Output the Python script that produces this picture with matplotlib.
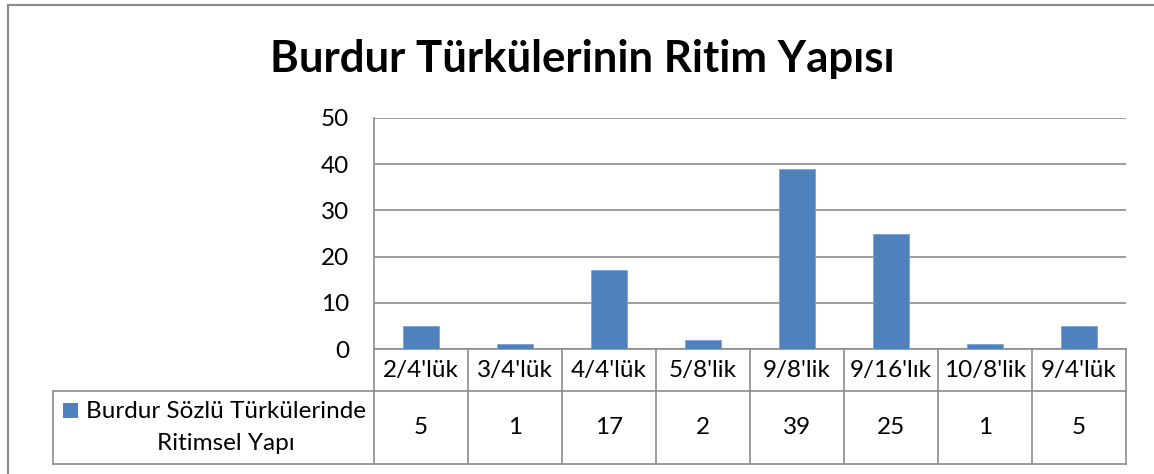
import matplotlib
matplotlib.use("Agg")
import matplotlib.pyplot as plt
from matplotlib.lines import Line2D
from matplotlib.patches import Rectangle

# rhythm categories and number of songs in each
categories = ["2/4'lük", "3/4'lük", "4/4'lük", "5/8'lik", "9/8'lik", "9/16'lık", "10/8'lik", "9/4'lük"]
counts = [5, 1, 17, 2, 39, 25, 1, 5]
series_name = "Burdur Sözlü Türkülerinde\nRitimsel Yapı"
title = "Burdur Türkülerinin Ritim Yapısı"
y_ticks = [0, 10, 20, 30, 40, 50]

BAR = "#4F81BD"
LINE = "#8c8c8c"
FONT = "Lato"
FS = 17.5

W, H = 1154, 474
fig = plt.figure(figsize=(W / 100, H / 100), dpi=100)
plt.rcParams["font.family"] = [FONT, "DejaVu Sans"]

# plot area in pixels: left, top, right, bottom
px_l, px_t, px_r, px_b = 374, 118, 1126, 349
ax = fig.add_axes([px_l / W, 1 - px_b / H, (px_r - px_l) / W, (px_b - px_t) / H])

x = list(range(len(categories)))
ax.bar(x, counts, width=0.38, color=BAR, edgecolor="#7aa3d6", linewidth=0.6, zorder=3)
ax.set_xlim(-0.5, len(categories) - 0.5)
ax.set_ylim(0, 50)
ax.set_yticks(y_ticks)
ax.set_xticks([])
ax.yaxis.grid(True, color=LINE, linewidth=1.2)
ax.set_axisbelow(True)
ax.tick_params(axis="y", length=0, pad=18, labelsize=FS)
for side in ["top", "right"]:
    ax.spines[side].set_visible(False)
for side in ["left", "bottom"]:
    ax.spines[side].set_color(LINE)
    ax.spines[side].set_linewidth(1.2)

# data table under the plot (heights in axes fractions)
plot_h = px_b - px_t
head_h = (391 - px_b) / plot_h
tab_h = (464 - px_b) / plot_h
label_l = (53 - px_l) / (px_r - px_l)

xt = ax.get_xaxis_transform()
lkw = dict(color=LINE, linewidth=1.2, clip_on=False)
for i in range(len(categories) + 1):
    ax.add_line(Line2D([i - 0.5, i - 0.5], [0, -tab_h], transform=xt, **lkw))
for yy in (-head_h, -tab_h):
    ax.add_line(Line2D([label_l, 1], [yy, yy], transform=ax.transAxes, **lkw))
ax.add_line(Line2D([label_l, label_l], [-head_h, -tab_h], transform=ax.transAxes, **lkw))

val_y = -(head_h + tab_h) / 2
for i, (cat, val) in enumerate(zip(categories, counts)):
    ax.text(i, -head_h / 2, cat, transform=xt, ha="center", va="center", fontsize=FS)
    ax.text(i, val_y, str(val), transform=xt, ha="center", va="center", fontsize=FS)

# series label with its colour key
text_x = (226 - px_l) / (px_r - px_l)
ax.text(text_x, val_y, series_name, transform=ax.transAxes, ha="center", va="center",
        multialignment="center", fontsize=FS, linespacing=1.62)
sq_l = (63 - px_l) / (px_r - px_l)
sq_w = 15 / (px_r - px_l)
sq_h = 15 / plot_h
ax.add_patch(Rectangle((sq_l, -(418 - px_b) / plot_h), sq_w, sq_h, transform=ax.transAxes,
                       facecolor=BAR, edgecolor="none", clip_on=False))

fig.text(582 / W, 1 - 72 / H, title, ha="center", va="baseline", fontsize=31.5, fontweight="bold")

# chart frame (left and top edges)
fig.add_artist(Line2D([8 / W, 8 / W], [0, 1 - 5 / H], transform=fig.transFigure, color="#8a8a8a", linewidth=1.5))
fig.add_artist(Line2D([8 / W, 1], [1 - 5 / H, 1 - 5 / H], transform=fig.transFigure, color="#8a8a8a", linewidth=1.5))

fig.savefig("out.png", dpi=100)
